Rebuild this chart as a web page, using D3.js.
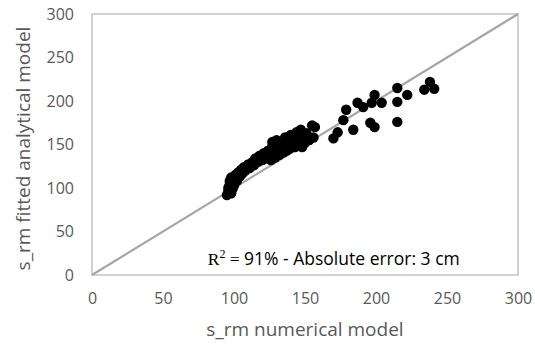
<!DOCTYPE html>
<html>
<head>
<meta charset="utf-8">
<script src="https://cdn.jsdelivr.net/npm/d3@7"></script>
<style>
  body { margin: 0; background: #fff; }
  text { font-family: "Open Sans", "Noto Sans", sans-serif; }
</style>
</head>
<body>
<div id="container"></div>
<script>
// chart size, same as the window
let w = 535;
let h = 348;

// data
let numerical = [95, 96, 96, 97, 97, 98, 98, 99, 99, 100, 100, 101, 102, 103, 104, 105, 106, 107, 108, 110,
  111, 113, 114, 115, 117, 118, 120, 121, 123, 124, 125, 126, 127, 127, 128, 129, 130, 130, 131, 132,
  133, 134, 135, 136, 137, 138, 139, 140, 141, 143, 144, 145, 146, 147, 148, 150, 151, 153, 155, 156, 157,
  170, 173, 177, 179, 184, 187, 191, 196, 197, 199, 199, 204, 215, 215, 215, 222, 234, 238, 241];
let analytical = [92, 96, 100, 104, 108, 94, 112, 99, 106, 103, 110, 115, 108, 118, 113, 121, 117, 124, 120, 127,
  123, 130, 126, 134, 130, 137, 132, 140, 134, 143, 137, 132, 148, 153, 141, 135, 150, 155, 144, 138,
  152, 147, 141, 158, 143, 150, 145, 161, 155, 147, 164, 150, 159, 167, 147, 152, 163, 155, 172, 158, 170,
  157, 164, 178, 190, 167, 198, 193, 175, 198, 207, 170, 198, 215, 199, 176, 207, 213, 222, 214];
let ticks = [0, 50, 100, 150, 200, 250, 300];

let margin = {left: 92, right: 17, top: 14, bottom: 73};

let svg = d3.select("div#container").append("svg")
    .attr("width", w).attr("height", h);

let x = d3.scaleLinear().domain([0, 300]).range([margin.left, w - margin.right]);
let y = d3.scaleLinear().domain([0, 300]).range([h - margin.bottom, margin.top]);

// plot area frame
svg.append("rect")
    .attr("x", x(0)).attr("y", y(300))
    .attr("width", x(300) - x(0)).attr("height", y(0) - y(300))
    .attr("fill", "none").attr("stroke", "#c4c4c4").attr("stroke-width", 1.5);

// axes, labels only
let xAxis = svg.append("g")
    .attr("transform", "translate(0," + (y(0) + 14) + ")")
    .call(d3.axisBottom(x).tickValues(ticks).tickSize(0).tickPadding(4));
let yAxis = svg.append("g")
    .attr("transform", "translate(" + (x(0) - 14) + ",0)")
    .call(d3.axisLeft(y).tickValues(ticks).tickSize(0).tickPadding(4));
[xAxis, yAxis].forEach(a => {
    a.select(".domain").remove();
    a.selectAll("text").attr("fill", "#595959").style("font-size", "16px")
        .style("font-family", "'Open Sans', sans-serif");
});

// 1:1 line
svg.append("line")
    .attr("x1", x(0)).attr("y1", y(0))
    .attr("x2", x(300)).attr("y2", y(300))
    .attr("stroke", "#a6a6a6").attr("stroke-width", 2.2);

// points
svg.append("g").selectAll("circle")
    .data(numerical)
    .enter()
    .append("circle")
    .attr("cx", d => x(d))
    .attr("cy", (d, i) => y(analytical[i]))
    .attr("r", 5.2)
    .attr("fill", "#000");

// annotation: R² = 91% - Absolute error: 3 cm
let note = svg.append("text")
    .attr("x", x(81.5)).attr("y", y(11.5))
    .attr("fill", "#000")
    .style("font-size", "17.5px");
note.append("tspan").style("font-family", "'Liberation Serif', serif").text("R");
note.append("tspan").style("font-family", "'Liberation Serif', serif")
    .style("font-size", "12px").attr("dy", -7).text("2");
note.append("tspan").style("font-family", "'Liberation Serif', serif")
    .attr("dy", 7).text(" = ");
note.append("tspan").text("91% - Absolute error: 3 cm");

// axis titles
svg.append("text")
    .attr("x", (x(0) + x(300)) / 2).attr("y", 336)
    .attr("text-anchor", "middle")
    .attr("fill", "#595959").style("font-size", "19px")
    .text("s_rm numerical model");
svg.append("text")
    .attr("transform", "translate(30," + ((y(0) + y(300)) / 2 + 4) + ") rotate(-90)")
    .attr("text-anchor", "middle")
    .attr("fill", "#595959").style("font-size", "19px")
    .text("s_rm fitted analytical model");
</script>
</body>
</html>
